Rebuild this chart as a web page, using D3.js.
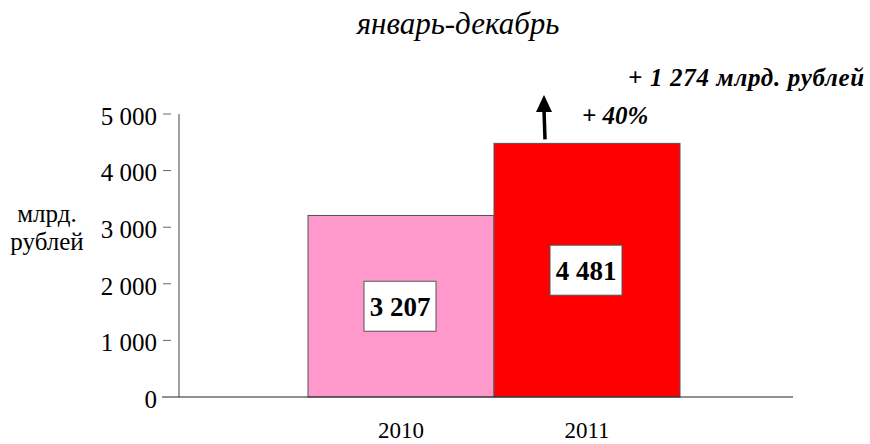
<!doctype html>
<html lang="ru">
<head>
<meta charset="utf-8">
<title>январь-декабрь</title>
<script src="https://cdn.jsdelivr.net/npm/d3@7"></script>
<style>
  body { margin: 0; background: #fff; }
  text { font-family: "Liberation Serif", "DejaVu Serif", serif; }
</style>
</head>
<body>
<script>
  // data
  var years = ["2010", "2011"];
  var values = [3207, 4481];
  var barColors = ["#ff99cc", "#ff0000"];
  var yTicks = [0, 1000, 2000, 3000, 4000, 5000];
  var growthAbs = "+ 1 274 млрд. рублей";
  var growthPct = "+ 40%";

  var svg = d3.select("body").append("svg")
      .attr("width", 870).attr("height", 444);

  var fmt = function(v){ return d3.format(",")(v).replace(/,/g, " "); };

  var x = d3.scaleBand().domain(years).range([308, 680]).padding(0);
  var y = d3.scaleLinear().domain([0, 5000]).range([397, 114]);

  // title
  svg.append("text")
      .attr("x", 458).attr("y", 34)
      .attr("text-anchor", "middle")
      .style("font-style", "italic")
      .style("font-size", "31px")
      .text("январь-декабрь");

  // axis title
  var yl = svg.append("text")
      .attr("text-anchor", "middle")
      .style("font-size", "25px");
  yl.append("tspan").attr("x", 47).attr("y", 222).text("млрд.");
  yl.append("tspan").attr("x", 47).attr("y", 250).text("рублей");

  // bars
  svg.append("g").selectAll("rect")
      .data(values)
      .enter().append("rect")
      .attr("x", function(d, i){ return x(years[i]); })
      .attr("y", function(d){ return y(d); })
      .attr("width", x.bandwidth())
      .attr("height", function(d){ return y(0) - y(d); })
      .attr("fill", function(d, i){ return barColors[i]; })
      .attr("stroke", "#555")
      .attr("stroke-width", 1);

  // y axis line
  svg.append("line")
      .attr("x1", 179).attr("x2", 179)
      .attr("y1", y(5000)).attr("y2", y(0))
      .attr("stroke", "#444");
  // baseline
  svg.append("line")
      .attr("x1", 162).attr("x2", 793)
      .attr("y1", y(0)).attr("y2", y(0))
      .attr("stroke", "#222");

  // ticks (detached from the axis, as in the original)
  var ticks = svg.append("g").selectAll("g")
      .data(yTicks).enter().append("g")
      .attr("transform", function(d){ return "translate(0," + y(d) + ")"; });
  ticks.filter(function(d){ return d > 0; }).append("line")
      .attr("x1", 163).attr("x2", 171)
      .attr("stroke", "#666");
  ticks.append("text")
      .attr("x", 157).attr("y", 2).attr("dy", "0.35em")
      .attr("text-anchor", "end")
      .style("font-size", "25px")
      .text(function(d){ return fmt(d); });

  // x labels
  svg.append("g").selectAll("text")
      .data(years).enter().append("text")
      .attr("x", function(d){ return x(d) + x.bandwidth() / 2; })
      .attr("y", 438)
      .attr("text-anchor", "middle")
      .style("font-size", "23px")
      .text(function(d){ return d; });

  // value boxes
  var boxes = svg.append("g").selectAll("g")
      .data(values).enter().append("g")
      .attr("transform", function(d, i){
        return "translate(" + (x(years[i]) + x.bandwidth() / 2 - 1) + "," + ((y(d) + y(0)) / 2) + ")";
      });
  boxes.append("rect")
      .attr("x", -36).attr("y", -25)
      .attr("width", 72).attr("height", 50)
      .attr("fill", "#fff")
      .attr("stroke", "#555");
  boxes.append("text")
      .attr("text-anchor", "middle")
      .attr("dy", "0.35em")
      .style("font-weight", "bold")
      .style("font-size", "27px")
      .text(function(d){ return fmt(d); });

  // growth arrow
  var ax = 544;
  svg.append("line")
      .attr("x1", ax + 1).attr("x2", ax)
      .attr("y1", y(values[1]) - 4).attr("y2", 110)
      .attr("stroke", "#000").attr("stroke-width", 3.5);
  svg.append("path")
      .attr("d", "M" + ax + ",95 L" + (ax - 8) + ",112 L" + (ax + 8) + ",112 Z")
      .attr("fill", "#000");

  svg.append("text")
      .attr("x", 582).attr("y", 124)
      .style("font-weight", "bold").style("font-style", "italic")
      .style("font-size", "25px")
      .text(growthPct);
  svg.append("text")
      .attr("x", 628).attr("y", 86)
      .style("font-weight", "bold").style("font-style", "italic")
      .style("font-size", "25px")
      .style("letter-spacing", "0.7px")
      .text(growthAbs);
</script>
</body>
</html>
